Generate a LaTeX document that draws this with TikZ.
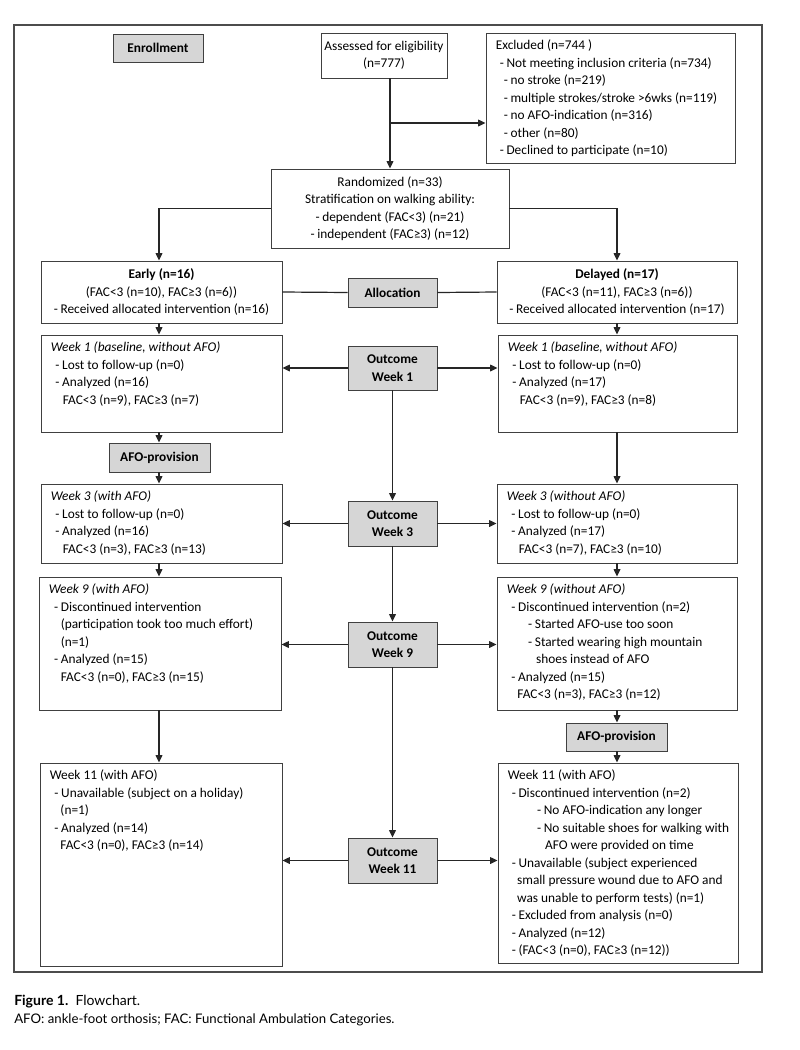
\documentclass[tikz,border=0pt]{standalone}
\usepackage{fontspec}
\setmainfont{Carlito}
\newfontfamily\capfont{Lato}
\usetikzlibrary{arrows.meta, fit, positioning}

\newcommand{\boxfont}{\fontsize{10}{13.1}\selectfont}
\newcommand{\itm}{-\hspace{0.2em}}
\newcommand{\ind}[1]{\hspace*{#1pt}}

\tikzset{
    box/.style={draw=black!75, line width=0.7pt, fill=white, inner sep=0pt},
    graybox/.style={box, fill=black!16},
    txt/.style={anchor=north west, align=left, inner xsep=7.5pt, inner ysep=5.5pt,
        font=\boxfont},
    ctxt/.style={anchor=center, align=center, inner sep=0pt, font=\boxfont},
    gtxt/.style={ctxt, font=\boxfont\bfseries},
    arr/.style={-{Triangle[length=5.5pt, width=5pt]}, line width=0.9pt, black!85},
    con/.style={line width=0.9pt, black!85},
    frame/.style={draw=black!70, line width=1.1pt}
}

\begin{document}
\begin{tikzpicture}[x=0.75pt, y=-0.75pt]
    \useasboundingbox[fill=white] (0,0) rectangle (800,1050);
    \draw[frame] (14,25) rectangle (762,972);

    % enrollment
    \node[graybox, fit={(113,34) (203,62)}, label={[gtxt]center:Enrollment}] (enroll) {};
    \node[box, fit={(321,33) (447,78)},
        label={[ctxt]center:{Assessed for eligibility\\(n=777)}}] (assess) {};
    \node[box, fit={(486,33) (735,163)}, label={[txt]north west:{Excluded (n=744 )\\
        \ind{3}\itm Not meeting inclusion criteria (n=734)\\
        \ind{6}\itm no stroke (n=219)\\
        \ind{6}\itm multiple strokes/stroke >6wks (n=119)\\
        \ind{6}\itm no AFO-indication (n=316)\\
        \ind{6}\itm other (n=80)\\
        \ind{3}\itm Declined to participate (n=10)}}] (excl) {};
    \node[box, fit={(271,169) (509,248)}, label={[ctxt]center:{Randomized (n=33)\\
        Stratification on walking ability:\\
        \itm dependent (FAC<3) (n=21)\\
        \itm independent (FAC≥3) (n=12)}}] (rand) {};

    % allocation
    \node[box, fit={(41,261) (282,323)}, label={[ctxt]center:{\textbf{Early (n=16)}\\
        (FAC<3 (n=10), FAC≥3 (n=6))\\
        \itm Received allocated intervention (n=16)}}] (early) {};
    \node[box, fit={(497,261) (737,323)}, label={[ctxt]center:{\textbf{Delayed (n=17)}\\
        (FAC<3 (n=11), FAC≥3 (n=6))\\
        \itm Received allocated intervention (n=17)}}] (delayed) {};
    \node[graybox, fit={(348,278) (437,307)}, label={[gtxt]center:Allocation}] (alloc) {};

    % follow-up, left column
    \node[box, fit={(41,335) (282,432)}, label={[txt]north west:{\textit{Week 1 (baseline, without AFO)}\\
        \ind{3.5}\itm Lost to follow-up (n=0)\\
        \ind{3.5}\itm Analyzed (n=16)\\
        \ind{9}FAC<3 (n=9), FAC≥3 (n=7)}}] (w1l) {};
    \node[graybox, fit={(109,443) (210,472)}, label={[gtxt]center:AFO-provision}] (afoA) {};
    \node[box, fit={(41,484) (282,563)}, label={[txt]north west:{\textit{Week 3 (with AFO)}\\
        \ind{3.5}\itm Lost to follow-up (n=0)\\
        \ind{3.5}\itm Analyzed (n=16)\\
        \ind{9}FAC<3 (n=3), FAC≥3 (n=13)}}] (w3l) {};
    \node[box, fit={(39,577) (281,710)}, label={[txt]north west:{\textit{Week 9 (with AFO)}\\
        \ind{4}\itm Discontinued intervention\\
        \ind{9}(participation took too much effort)\\
        \ind{9}(n=1)\\
        \ind{4}\itm Analyzed (n=15)\\
        \ind{9}FAC<3 (n=0), FAC≥3 (n=15)}}] (w9l) {};
    \node[box, fit={(40,763) (282,966)}, label={[txt]north west:{Week 11 (with AFO)\\
        \ind{3.5}\itm Unavailable (subject on a holiday)\\
        \ind{8}(n=1)\\
        \ind{3.5}\itm Analyzed (n=14)\\
        \ind{8}FAC<3 (n=0), FAC≥3 (n=14)}}] (w11l) {};

    % follow-up, right column
    \node[box, fit={(498,335) (737,432)}, label={[txt]north west:{\textit{Week 1 (baseline, without AFO)}\\
        \ind{3.5}\itm Lost to follow-up (n=0)\\
        \ind{3.5}\itm Analyzed (n=17)\\
        \ind{9}FAC<3 (n=9), FAC≥3 (n=8)}}] (w1r) {};
    \node[box, fit={(497,484) (737,563)}, label={[txt]north west:{\textit{Week 3 (without AFO)}\\
        \ind{3.5}\itm Lost to follow-up (n=0)\\
        \ind{3.5}\itm Analyzed (n=17)\\
        \ind{9}FAC<3 (n=7), FAC≥3 (n=10)}}] (w3r) {};
    \node[box, fit={(497,577) (737,710)}, label={[txt]north west:{\textit{Week 9 (without AFO)}\\
        \ind{3.5}\itm Discontinued intervention (n=2)\\
        \ind{16}\itm Started AFO-use too soon\\
        \ind{16}\itm Started wearing high mountain\\
        \ind{22}shoes instead of AFO\\
        \ind{3.5}\itm Analyzed (n=15)\\
        \ind{8}FAC<3 (n=3), FAC≥3 (n=12)}}] (w9r) {};
    \node[graybox, fit={(566,723) (667,751)}, label={[gtxt]center:AFO-provision}] (afoB) {};
    \node[box, fit={(498,763) (738,963)}, label={[txt]north west:{Week 11 (with AFO)\\
        \ind{3}\itm Discontinued intervention (n=2)\\
        \ind{22}\itm No AFO-indication any longer\\
        \ind{22}\itm No suitable shoes for walking with\\
        \ind{28}AFO were provided on time\\
        \ind{3}\itm Unavailable (subject experienced\\
        \ind{7}small pressure wound due to AFO and\\
        \ind{7}was unable to perform tests) (n=1)\\
        \ind{3}\itm Excluded from analysis (n=0)\\
        \ind{3}\itm Analyzed (n=12)\\
        \ind{3}\itm (FAC<3 (n=0), FAC≥3 (n=12))}}] (w11r) {};

    % outcome moments
    \node[graybox, fit={(348,346) (437,390)}, label={[gtxt]center:{Outcome\\Week 1}}] (o1) {};
    \node[graybox, fit={(348,501) (437,546)}, label={[gtxt]center:{Outcome\\Week 3}}] (o3) {};
    \node[graybox, fit={(348,622) (437,667)}, label={[gtxt]center:{Outcome\\Week 9}}] (o9) {};
    \node[graybox, fit={(348,838) (437,883)}, label={[gtxt]center:{Outcome\\Week 11}}] (o11) {};

    \coordinate (split) at (390,123);
    \coordinate (colL) at (159,0);

    % connectors
    \draw[arr] (assess.south -| rand.north) -- (rand.north);
    \draw[arr] (split) -- (split -| excl.west);
    \draw[arr] (rand.west) -| (early.north -| colL);
    \draw[arr] (rand.east) -| (delayed.north);
    \draw[con] (early.east) -- (alloc.west);
    \draw[con] (alloc.east) -- (delayed.west);

    \draw[arr] (early.south -| colL) -- (w1l.north -| colL);
    \draw[arr] (w1l.south -| colL) -- (afoA.north -| colL);
    \draw[arr] (afoA.south -| colL) -- (w3l.north -| colL);
    \draw[arr] (w3l.south -| colL) -- (w9l.north -| colL);
    \draw[arr] (w9l.south -| colL) -- (w11l.north -| colL);

    \draw[arr] (delayed.south) -- (w1r.north -| delayed.south);
    \draw[arr] (w1r.south -| delayed.south) -- (w3r.north -| delayed.south);
    \draw[arr] (w3r.south -| delayed.south) -- (w9r.north -| delayed.south);
    \draw[arr] (w9r.south -| delayed.south) -- (afoB.north -| delayed.south);
    \draw[arr] (afoB.south -| delayed.south) -- (w11r.north -| delayed.south);

    \draw[arr] (o1) -- (o3);
    \draw[arr] (o3) -- (o9);
    \draw[arr] (o9) -- (o11);
    \foreach \o/\l/\r in {o1/w1l/w1r, o3/w3l/w3r, o9/w9l/w9r, o11/w11l/w11r} {
        \draw[arr] (\o.west) -- (\o.west -| \l.east);
        \draw[arr] (\o.east) -- (\o.east -| \r.west);
    }

    % caption
    \node[anchor=base west, inner sep=0pt, font=\capfont\fontsize{10.5}{12}\selectfont]
        (cap) at (14,1005) {\textbf{Figure 1.}\ \ Flowchart.};
    \node[anchor=base west, inner sep=0pt, font=\capfont\fontsize{9.9}{12}\selectfont]
        (capnote) at (14,1023) {AFO: ankle-foot orthosis; FAC: Functional Ambulation Categories.};
\end{tikzpicture}
\end{document}
